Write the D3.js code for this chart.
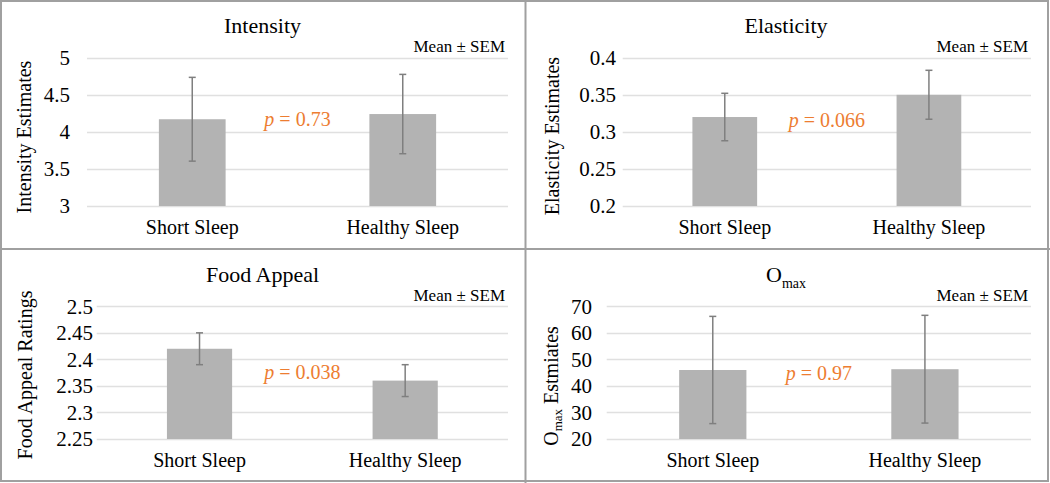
<!DOCTYPE html>
<html>
<head>
<meta charset="utf-8">
<script src="https://cdn.jsdelivr.net/npm/d3@7/dist/d3.min.js"></script>
<style>
  html, body { margin: 0; padding: 0; background: #fff; }
  svg { display: block; }
  svg text { font-family: "Liberation Serif", "Times New Roman", serif; }
</style>
</head>
<body>
<svg id="chart" width="1050" height="483"></svg>
<script>
// ---- data ----
const categories = ["Short Sleep", "Healthy Sleep"];

const intensityMeans = [4.17, 4.24];
const intensitySem = [0.565, 0.535];
const intensityTicks = [3, 3.5, 4, 4.5, 5];
const intensityP = "0.73";

const elasticityMeans = [0.32, 0.35];
const elasticitySem = [0.032, 0.033];
const elasticityTicks = [0.2, 0.25, 0.3, 0.35, 0.4];
const elasticityP = "0.066";

const foodMeans = [2.42, 2.36];
const foodSem = [0.03, 0.03];
const foodTicks = [2.25, 2.3, 2.35, 2.4, 2.45, 2.5];
const foodP = "0.038";

const omaxMeans = [46.0, 46.3];
const omaxSem = [20.2, 20.3];
const omaxTicks = [20, 30, 40, 50, 60, 70];
const omaxP = "0.97";

// ---- layout (positions only) ----
const panels = [
  { title: "Intensity", ylabel: [["Intensity Estimates", false]], means: intensityMeans, sem: intensitySem, ticks: intensityTicks, p: intensityP,
    x0: 87, x1: 508, yTop: 57.7, yBot: 206, tickRight: 70, cx: 262.5, titleY: 33, meanY: 52, catY: 234, pY: 126, ylX: 24, ylY: 137 },
  { title: "Elasticity", ylabel: [["Elasticity Estimates", false]], means: elasticityMeans, sem: elasticitySem, ticks: elasticityTicks, p: elasticityP,
    x0: 622.7, x1: 1031, yTop: 57.7, yBot: 206, tickRight: 616, cx: 786, titleY: 33, meanY: 52, catY: 234, pY: 127, ylX: 552, ylY: 136 },
  { title: "Food Appeal", ylabel: [["Food Appeal Ratings", false]], means: foodMeans, sem: foodSem, ticks: foodTicks, p: foodP,
    x0: 96.7, x1: 508, yTop: 306.3, yBot: 439, tickRight: 93, cx: 262.5, titleY: 282, meanY: 301, catY: 467, pY: 379, ylX: 25, ylY: 375 },
  { title: [["O", false], ["max", true]], ylabel: [["O", false], ["max", true], [" Estmiates", false]], means: omaxMeans, sem: omaxSem, ticks: omaxTicks, p: omaxP,
    x0: 606.7, x1: 1031, yTop: 306.3, yBot: 439, tickRight: 592, cx: 786, titleY: 282, meanY: 301, catY: 467, pY: 380, ylX: 551, ylY: 386 }
];

const svg = d3.select("#chart");
const barColor = "#b3b3b3";
const errColor = "#7f7f7f";
const gridColor = "#e0e0e0";
const pColor = "#ed7d31";
const borderColor = "#a0a0a0";

// frame
svg.append("rect").attr("x", 1).attr("y", 1).attr("width", 1047).attr("height", 480)
  .attr("fill", "none").attr("stroke", borderColor).attr("stroke-width", 2);
svg.append("line").attr("x1", 525.5).attr("x2", 525.5).attr("y1", 0).attr("y2", 483)
  .attr("stroke", borderColor).attr("stroke-width", 2);
svg.append("line").attr("x1", 0).attr("x2", 1050).attr("y1", 249).attr("y2", 249)
  .attr("stroke", borderColor).attr("stroke-width", 2);

function addRich(sel, parts, mainSize, subSize, subDy) {
  parts.forEach(([t, sub], i) => {
    const ts = sel.append("tspan").text(t);
    if (sub) { ts.attr("font-size", subSize).attr("dy", subDy); }
    else { ts.attr("font-size", mainSize); if (i > 0 && parts[i - 1][1]) ts.attr("dy", -subDy); }
  });
}

panels.forEach(pn => {
  const g = svg.append("g");
  const dom = d3.extent(pn.ticks);
  const y = d3.scaleLinear().domain(dom).range([pn.yBot, pn.yTop]);
  const x = d3.scaleBand().domain(categories).range([pn.x0, pn.x1]).padding(0);
  const barW = x.bandwidth() * 0.317;

  // gridlines
  g.append("g").selectAll("line").data(pn.ticks).join("line")
    .attr("x1", pn.x0).attr("x2", pn.x1)
    .attr("y1", d => Math.round(y(d)) + 0.5).attr("y2", d => Math.round(y(d)) + 0.5)
    .attr("stroke", gridColor).attr("stroke-width", 1.3);

  // y axis tick labels via d3 axis
  const ax = g.append("g").attr("transform", `translate(${pn.tickRight},0)`)
    .call(d3.axisLeft(y).tickValues(pn.ticks).tickSize(0).tickPadding(0).tickFormat(d3.format("")));
  ax.select(".domain").remove();
  ax.attr("font-family", null).attr("font-size", null);
  ax.selectAll("text").attr("font-size", 21).attr("fill", "#000").attr("text-anchor", "end");

  // bars
  g.append("g").selectAll("rect").data(categories).join("rect")
    .attr("x", (d) => x(d) + x.bandwidth() / 2 - barW / 2)
    .attr("width", barW)
    .attr("y", (d, i) => y(pn.means[i]))
    .attr("height", (d, i) => y(dom[0]) - y(pn.means[i]))
    .attr("fill", barColor);

  // error bars
  const eg = g.append("g").attr("stroke", errColor).attr("stroke-width", 1.5);
  categories.forEach((c, i) => {
    const cx = x(c) + x.bandwidth() / 2;
    const hi = y(pn.means[i] + pn.sem[i]), lo = y(pn.means[i] - pn.sem[i]);
    eg.append("line").attr("x1", cx).attr("x2", cx).attr("y1", hi).attr("y2", lo);
    eg.append("line").attr("x1", cx - 3.5).attr("x2", cx + 3.5).attr("y1", hi).attr("y2", hi);
    eg.append("line").attr("x1", cx - 3.5).attr("x2", cx + 3.5).attr("y1", lo).attr("y2", lo);
  });

  // category labels
  g.append("g").selectAll("text").data(categories).join("text")
    .attr("x", d => x(d) + x.bandwidth() / 2).attr("y", pn.catY)
    .attr("text-anchor", "middle").attr("font-size", 20).attr("fill", "#000")
    .text(d => d);

  // title
  const t = g.append("text").attr("x", pn.cx).attr("y", pn.titleY)
    .attr("text-anchor", "middle").attr("fill", "#000").attr("font-size", 22);
  if (typeof pn.title === "string") t.text(pn.title);
  else addRich(t, pn.title, 22, 14, 6);

  // Mean ± SEM
  g.append("text").attr("x", pn.x1 - 3).attr("y", pn.meanY).attr("text-anchor", "end")
    .attr("font-size", 17).attr("fill", "#000").text("Mean ± SEM");

  // p value
  const midX = (x(categories[0]) + x(categories[1]) + x.bandwidth()) / 2;
  const pt = g.append("text").attr("x", midX).attr("y", pn.pY).attr("text-anchor", "middle")
    .attr("font-size", 20).attr("fill", pColor);
  pt.append("tspan").attr("font-style", "italic").text("p");
  pt.append("tspan").text(" = " + pn.p);

  // y axis title
  const yl = g.append("text").attr("transform", `translate(${pn.ylX},${pn.ylY}) rotate(-90)`)
    .attr("text-anchor", "middle").attr("dominant-baseline", "central").attr("fill", "#000").attr("font-size", 20);
  addRich(yl, pn.ylabel, 20, 13, 6);
});
</script>
</body>
</html>
